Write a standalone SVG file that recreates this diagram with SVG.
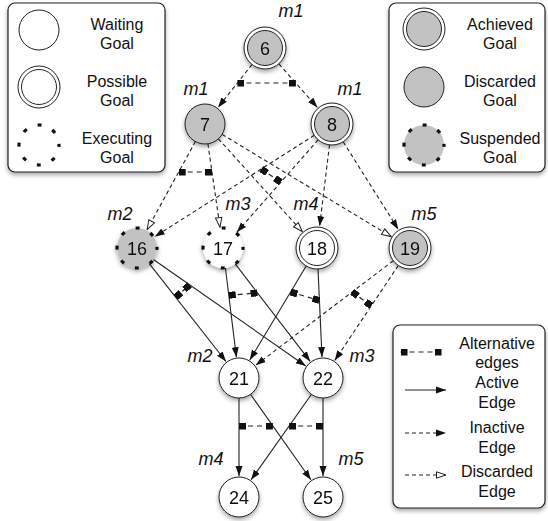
<svg xmlns="http://www.w3.org/2000/svg" width="548" height="521" viewBox="0 0 548 521">
<style>
text{font-family:"Liberation Sans",Arial,sans-serif;fill:#111}
.lg{font-size:16px;text-anchor:middle}
.nl{font-size:18px;text-anchor:middle}
.m{font-size:18px;font-style:italic;text-anchor:middle}
.box{fill:#fff;stroke:#222;stroke-width:1.2}
.c{stroke:#222;stroke-width:1}
.w{fill:#fff}
.g{fill:#c2c2c2}
.dot{stroke:#111;stroke-width:3.2;stroke-dasharray:4 11.71;stroke-dashoffset:2}
.act{stroke:#222;stroke-width:1.1;fill:none;marker-end:url(#af)}
.ina{stroke:#222;stroke-width:1.1;fill:none;stroke-dasharray:4 3;marker-end:url(#af)}
.dis{stroke:#222;stroke-width:1.1;fill:none;stroke-dasharray:4 3;marker-end:url(#ah)}
.alt{stroke:#222;stroke-width:1.2;fill:none;stroke-dasharray:5 4;marker-start:url(#sqs);marker-end:url(#sqe)}
</style>
<defs>
<filter id="sh" x="-30%" y="-30%" width="160%" height="170%">
<feDropShadow dx="0" dy="2.5" stdDeviation="2.2" flood-color="#000" flood-opacity="0.35"/>
</filter>
<marker id="af" viewBox="0 0 10 8" refX="10" refY="4" markerWidth="10" markerHeight="8" markerUnits="userSpaceOnUse" orient="auto">
<path d="M0,0.5 L10,4 L0,7.5 z" fill="#111"/>
</marker>
<marker id="ah" viewBox="-1 -1 12 10" refX="10" refY="4" markerWidth="12" markerHeight="10" markerUnits="userSpaceOnUse" orient="auto">
<path d="M0.5,0.8 L10,4 L0.5,7.2 z" fill="#fff" stroke="#222" stroke-width="1"/>
</marker>
<marker id="sqs" viewBox="0 0 7 7" refX="0" refY="3.5" markerWidth="7" markerHeight="7" markerUnits="userSpaceOnUse" orient="auto">
<rect width="7" height="7" fill="#111"/>
</marker>
<marker id="sqe" viewBox="0 0 7 7" refX="7" refY="3.5" markerWidth="7" markerHeight="7" markerUnits="userSpaceOnUse" orient="auto">
<rect width="7" height="7" fill="#111"/>
</marker>
</defs>

<g id="legend-goals-1">
<rect class="box" x="8" y="3" width="157" height="169" rx="7" filter="url(#sh)"/>
<circle class="c w" cx="39" cy="30" r="20"/>
<text class="lg" x="117" y="30">Waiting</text><text class="lg" x="117" y="49">Goal</text>
<circle class="c w" cx="39" cy="87" r="21"/><circle class="c w" cx="39" cy="87" r="17.5"/>
<text class="lg" x="117" y="87">Possible</text><text class="lg" x="117" y="106">Goal</text>
<circle class="dot" fill="none" cx="39" cy="145" r="20"/>
<text class="lg" x="117" y="144">Executing</text><text class="lg" x="117" y="163">Goal</text>
</g>

<g id="legend-goals-2">
<rect class="box" x="389" y="3" width="156" height="169" rx="7" filter="url(#sh)"/>
<circle class="c w" cx="424" cy="29" r="21"/><circle class="c g" cx="424" cy="29" r="17.5"/>
<text class="lg" x="500" y="30">Achieved</text><text class="lg" x="500" y="49">Goal</text>
<circle class="c g" cx="424" cy="87" r="20"/>
<text class="lg" x="500" y="87">Discarded</text><text class="lg" x="500" y="106">Goal</text>
<circle class="dot g" cx="424" cy="145" r="20"/>
<text class="lg" x="500" y="144">Suspended</text><text class="lg" x="500" y="163">Goal</text>
</g>

<g id="legend-edges">
<rect class="box" x="393" y="325" width="152" height="183" rx="7" filter="url(#sh)"/>
<line class="alt" x1="400.5" y1="352" x2="441.5" y2="352"/>
<text class="lg" x="497" y="349">Alternative</text><text class="lg" x="497" y="368">edges</text>
<line class="act" x1="405" y1="390" x2="446" y2="390"/>
<text class="lg" x="497" y="388">Active</text><text class="lg" x="497" y="408">Edge</text>
<line class="ina" x1="405" y1="433" x2="446" y2="433"/>
<text class="lg" x="497" y="433">Inactive</text><text class="lg" x="497" y="453">Edge</text>
<line class="dis" x1="405" y1="475" x2="446" y2="475"/>
<text class="lg" x="497" y="477">Discarded</text><text class="lg" x="497" y="497">Edge</text>
</g>

<g id="connectors">
<line class="ina" x1="252.0" y1="64.5" x2="218.0" y2="107.5"/>
<line class="ina" x1="278.9" y1="63.8" x2="317.4" y2="107.5"/>
<line class="alt" x1="237.4" y1="83" x2="295.9" y2="83"/>

<line class="dis" x1="195.4" y1="141.5" x2="147.1" y2="229.6"/>
<line class="dis" x1="207.9" y1="143.8" x2="220.0" y2="227.2"/>
<line class="dis" x1="218.4" y1="138.8" x2="302.3" y2="231.7"/>
<line class="dis" x1="222.1" y1="134.4" x2="391.2" y2="236.6"/>
<line class="alt" x1="178.7" y1="172" x2="212.0" y2="172"/>

<line class="ina" x1="314.3" y1="135.3" x2="154.7" y2="236.7"/>
<line class="ina" x1="318.1" y1="139.8" x2="236.9" y2="232.2"/>
<line class="ina" x1="329.5" y1="144.8" x2="319.6" y2="226.2"/>
<line class="ina" x1="343.2" y1="141.8" x2="398.3" y2="229.4"/>
<line class="alt" x1="261.2" y1="169.0" x2="280.8" y2="182.2"/>

<line class="act" x1="149.3" y1="263.7" x2="226.0" y2="361.5"/>
<line class="act" x1="153.4" y1="259.5" x2="305.8" y2="366.0"/>
<line class="alt" x1="175.7" y1="297.3" x2="189.6" y2="284.8"/>

<line class="act" x1="225.4" y1="267.8" x2="236.4" y2="357.2"/>
<line class="act" x1="235.2" y1="263.9" x2="310.2" y2="361.4"/>
<line class="alt" x1="228.8" y1="295.3" x2="257.5" y2="292.9"/>

<line class="act" x1="306.2" y1="266.0" x2="249.8" y2="360.0"/>
<line class="act" x1="318.0" y1="269.0" x2="322.0" y2="357.0"/>
<line class="alt" x1="290.6" y1="292" x2="319.4" y2="300.5"/>

<line class="ina" x1="393.3" y1="260.7" x2="255.7" y2="365.3"/>
<line class="ina" x1="398.3" y1="265.5" x2="334.7" y2="360.5"/>
<line class="alt" x1="352.2" y1="291.9" x2="371.3" y2="305.9"/>

<line class="act" x1="239" y1="398" x2="239" y2="476"/>
<line class="act" x1="250.5" y1="394.3" x2="310.9" y2="479.8"/>
<line class="act" x1="311.5" y1="394.3" x2="251.1" y2="479.8"/>
<line class="act" x1="323" y1="398" x2="323" y2="476"/>
<line class="alt" x1="239" y1="426" x2="272.9" y2="426"/>
<line class="alt" x1="289.1" y1="426" x2="323" y2="426"/>
</g>

<g id="n6" filter="url(#sh)"><circle class="c w" cx="265" cy="48" r="21"/><circle class="c g" cx="265" cy="48" r="17.5"/><text class="nl" x="265" y="54.5">6</text></g>
<text class="m" x="291" y="17">m1</text>
<g id="n7" filter="url(#sh)"><circle class="c g" cx="205" cy="124" r="20"/><text class="nl" x="205" y="130.5">7</text></g>
<text class="m" x="196" y="95">m1</text>
<g id="n8" filter="url(#sh)"><circle class="c w" cx="332" cy="124" r="21"/><circle class="c g" cx="332" cy="124" r="17.5"/><text class="nl" x="332" y="130.5">8</text></g>
<text class="m" x="350" y="95">m1</text>

<g id="n16" filter="url(#sh)"><circle class="dot g" cx="137" cy="248" r="20"/><text class="nl" x="137" y="254.5">16</text></g>
<text class="m" x="120" y="220">m2</text>
<g id="n17" filter="url(#sh)"><circle class="dot w" cx="223" cy="248" r="20"/><text class="nl" x="223" y="254.5">17</text></g>
<text class="m" x="238" y="210">m3</text>
<g id="n18" filter="url(#sh)"><circle class="c w" cx="317" cy="248" r="21"/><circle class="c w" cx="317" cy="248" r="17.5"/><text class="nl" x="317" y="254.5">18</text></g>
<text class="m" x="306" y="210">m4</text>
<g id="n19" filter="url(#sh)"><circle class="c w" cx="410" cy="248" r="21"/><circle class="c g" cx="410" cy="248" r="17.5"/><text class="nl" x="410" y="254.5">19</text></g>
<text class="m" x="424" y="220">m5</text>

<g id="n21" filter="url(#sh)"><circle class="c w" cx="239" cy="378" r="20"/><text class="nl" x="239" y="384.5">21</text></g>
<text class="m" x="200" y="362">m2</text>
<g id="n22" filter="url(#sh)"><circle class="c w" cx="323" cy="378" r="20"/><text class="nl" x="323" y="384.5">22</text></g>
<text class="m" x="362" y="362">m3</text>
<g id="n24" filter="url(#sh)"><circle class="c w" cx="239" cy="497" r="20"/><text class="nl" x="239" y="503.5">24</text></g>
<text class="m" x="211" y="465">m4</text>
<g id="n25" filter="url(#sh)"><circle class="c w" cx="323" cy="497" r="20"/><text class="nl" x="323" y="503.5">25</text></g>
<text class="m" x="351" y="465">m5</text>
</svg>
